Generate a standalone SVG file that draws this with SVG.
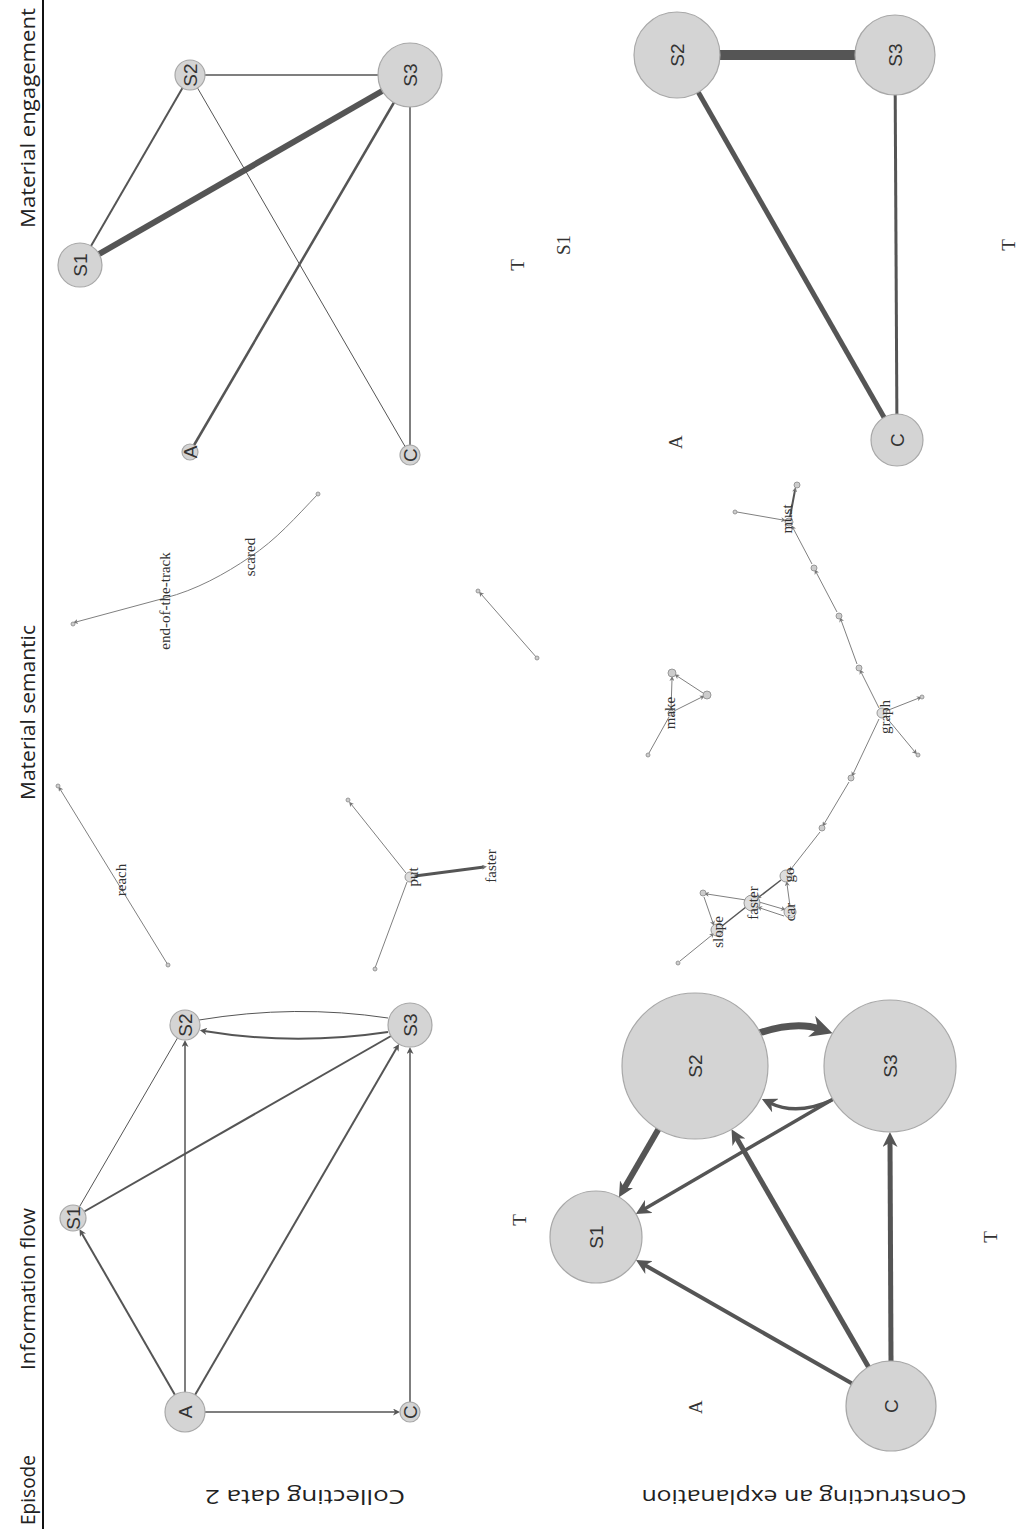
<svg xmlns="http://www.w3.org/2000/svg" width="1019" height="1529" viewBox="0 0 1019 1529">
<style>
.bg{fill:#fff}
.hdr{font-family:"Open Sans","Liberation Sans",sans-serif;font-size:20px;fill:#222}
.nd{fill:#d4d4d4;stroke:#a8a8a8;stroke-width:1.2}
.sn{fill:#d4d4d4;stroke:#999;stroke-width:1;fill-opacity:0.8}
.dot{fill:#ccc;stroke:#888;stroke-width:0.8}
.nl{font-family:"Liberation Sans",Arial,sans-serif;font-size:19px;fill:#333;text-anchor:middle;dominant-baseline:central}
.tl{font-family:"Liberation Serif","Times New Roman",serif;font-size:19px;fill:#333;text-anchor:middle;dominant-baseline:central}
.wl{font-family:"Liberation Serif","Times New Roman",serif;font-size:15px;fill:#333;text-anchor:middle;dominant-baseline:central}
.e{fill:none;stroke:#555;stroke-linecap:butt}
.et{fill:none;stroke:#808080;stroke-width:1}
</style>
<defs>
<marker id="aS" viewBox="0 0 10 10" refX="4" refY="5" markerWidth="7" markerHeight="7" markerUnits="userSpaceOnUse" orient="auto"><path d="M0,0 L10,5 L0,10 L3,5 z" fill="#555"/></marker>
<marker id="aM" viewBox="0 0 10 10" refX="4" refY="5" markerWidth="15" markerHeight="15" markerUnits="userSpaceOnUse" orient="auto"><path d="M0,0 L10,5 L0,10 L3,5 z" fill="#555"/></marker>
<marker id="aL" viewBox="0 0 10 10" refX="4" refY="5" markerWidth="22" markerHeight="22" markerUnits="userSpaceOnUse" orient="auto"><path d="M0,0 L10,5 L0,10 L3,5 z" fill="#555"/></marker>
<marker id="aT" viewBox="0 0 10 10" refX="4" refY="5" markerWidth="5" markerHeight="5" markerUnits="userSpaceOnUse" orient="auto"><path d="M0,0 L10,5 L0,10 L3,5 z" fill="#777"/></marker>
</defs>
<rect class="bg" x="0" y="0" width="1019" height="1529"/>

<g id="headers">
<line x1="43" y1="0" x2="43" y2="1529" stroke="#111" stroke-width="2"/>
<text class="hdr" transform="translate(35,228) rotate(-90)" textLength="220" lengthAdjust="spacingAndGlyphs">Material engagement</text>
<text class="hdr" transform="translate(35,800) rotate(-90)" textLength="175" lengthAdjust="spacingAndGlyphs">Material semantic</text>
<text class="hdr" transform="translate(35,1370) rotate(-90)" textLength="162" lengthAdjust="spacingAndGlyphs">Information flow</text>
<text class="hdr" transform="translate(35,1525) rotate(-90)" textLength="70" lengthAdjust="spacingAndGlyphs">Episode</text>
<text class="hdr" text-anchor="middle" dominant-baseline="central" transform="rotate(180,305,1497)" x="305" y="1497" textLength="200" lengthAdjust="spacingAndGlyphs">Collecting data 2</text>
<text class="hdr" text-anchor="middle" dominant-baseline="central" transform="rotate(180,804,1497)" x="804" y="1497" textLength="325" lengthAdjust="spacingAndGlyphs">Constructing an explanation</text>
</g>

<g id="connectors">
<line class="e" x1="80" y1="265" x2="190" y2="75" stroke-width="2"/>
<line class="e" x1="80" y1="265" x2="410" y2="75" stroke-width="6"/>
<line class="e" x1="190" y1="75" x2="410" y2="75" stroke-width="1.5"/>
<line class="e" x1="190" y1="75" x2="410" y2="455" stroke-width="1" stroke="#707070"/>
<line class="e" x1="410" y1="75" x2="190" y2="452" stroke-width="2.5"/>
<line class="e" x1="410" y1="75" x2="410" y2="455" stroke-width="1.5"/>
<line class="e" x1="677" y1="55" x2="895" y2="55" stroke-width="10"/>
<line class="e" x1="677" y1="55" x2="897" y2="440" stroke-width="5"/>
<line class="e" x1="895" y1="55" x2="897" y2="440" stroke-width="3"/>

<path class="et" d="M318,494 C296,517 276,540 250,557 C225,574 196,590 165,598 L76,622" marker-end="url(#aT)"/>
<path class="et" d="M537,658 L481,594" marker-end="url(#aT)"/>
<path class="et" d="M168,965 L60,789" marker-end="url(#aT)"/>
<path class="et" d="M375,968 L407,882"/>
<path class="et" d="M406,873 L351,804" marker-end="url(#aT)"/>
<path class="e" d="M415,876 L484,867" stroke-width="3" marker-end="url(#aT)"/>

<path class="et" d="M737,512 L783,520" marker-end="url(#aT)"/>
<path class="e" d="M790,517 L795,490" stroke-width="2" marker-end="url(#aT)"/>
<path class="et" d="M812,564 L793,528" marker-end="url(#aT)"/>
<path class="et" d="M837,612 L816,572" marker-end="url(#aT)"/>
<path class="et" d="M857,664 L841,620" marker-end="url(#aT)"/>
<path class="et" d="M879,708 L861,672" marker-end="url(#aT)"/>
<path class="et" d="M879,719 L853,774" marker-end="url(#aT)"/>
<path class="et" d="M849,782 L824,824" marker-end="url(#aT)"/>
<path class="et" d="M820,832 L791,869" marker-end="url(#aT)"/>
<path class="et" d="M886,711 L919,698" marker-end="url(#aT)"/>
<path class="et" d="M886,717 L915,752" marker-end="url(#aT)"/>
<path class="e" d="M781,880 L759,897" stroke-width="1.5" marker-end="url(#aT)"/>
<path class="et" d="M790,906 L787,884" marker-end="url(#aT)"/>
<path class="et" d="M759,902 L783,909" marker-end="url(#aT)"/>
<path class="et" d="M784,916 L760,908" marker-end="url(#aT)"/>
<path class="et" d="M746,900 L707,894" marker-end="url(#aT)"/>
<path class="et" d="M704,897 L713,923" marker-end="url(#aT)"/>
<path class="e" d="M746,907 L722,926" stroke-width="1.5"/>
<path class="et" d="M680,961 L712,935" marker-end="url(#aT)"/>
<path class="et" d="M649,753 L669,717"/>
<path class="et" d="M674,711 L702,697" marker-end="url(#aT)"/>
<path class="et" d="M703,693 L677,676" marker-end="url(#aT)"/>
<path class="et" d="M671,710 L672,679" marker-end="url(#aT)"/>

<line class="e" x1="175" y1="1395" x2="81.6" y2="1232.9" stroke-width="2" marker-end="url(#aS)"/>
<line class="e" x1="185" y1="1392" x2="185" y2="1044.2" stroke-width="1.5" marker-end="url(#aS)"/>
<line class="e" x1="195" y1="1395" x2="396.9" y2="1047.6" stroke-width="2" marker-end="url(#aS)"/>
<line class="e" x1="205" y1="1412" x2="395.8" y2="1412" stroke-width="1.5" marker-end="url(#aS)"/>
<line class="e" x1="410" y1="1402" x2="410" y2="1051.2" stroke-width="1.5" marker-end="url(#aS)"/>
<line class="e" x1="79.5" y1="1206.7" x2="177.5" y2="1038" stroke-width="1" stroke="#777"/>
<line class="e" x1="84.3" y1="1211.5" x2="391" y2="1036" stroke-width="2"/>
<path class="e" d="M199,1020 Q295,1004 388,1018" stroke-width="1" stroke="#777"/>
<path class="e" d="M388,1032 Q294,1046 204,1031" stroke-width="2" marker-end="url(#aS)"/>

<path class="e" d="M759,1033 Q796,1021 820,1029" stroke-width="7" marker-end="url(#aL)"/>
<path class="e" d="M832,1100 Q797,1116 770,1103" stroke-width="3.5" marker-end="url(#aM)"/>
<line class="e" x1="658.4" y1="1129.2" x2="623.5" y2="1189.4" stroke-width="6" marker-end="url(#aM)"/>
<line class="e" x1="832.9" y1="1099.2" x2="643.6" y2="1209.4" stroke-width="3.5" marker-end="url(#aM)"/>
<line class="e" x1="852" y1="1383.6" x2="643.8" y2="1264.5" stroke-width="4" marker-end="url(#aM)"/>
<line class="e" x1="868.5" y1="1367" x2="736" y2="1137.1" stroke-width="5" marker-end="url(#aM)"/>
<line class="e" x1="891" y1="1361" x2="890" y2="1141" stroke-width="5" marker-end="url(#aM)"/>
</g>

<g id="me1-S1"><circle class="nd" cx="80" cy="265" r="22"/><text class="nl" transform="rotate(-90,80,265)" x="80" y="265">S1</text></g>
<g id="me1-S2"><circle class="nd" cx="190" cy="75" r="15"/><text class="nl" transform="rotate(-90,190,75)" x="190" y="75">S2</text></g>
<g id="me1-S3"><circle class="nd" cx="410" cy="75" r="32"/><text class="nl" transform="rotate(-90,410,75)" x="410" y="75">S3</text></g>
<g id="me1-A"><circle class="nd" cx="190" cy="452" r="8"/><text class="nl" transform="rotate(-90,190,452)" x="190" y="452">A</text></g>
<g id="me1-C"><circle class="nd" cx="410" cy="455" r="10"/><text class="nl" transform="rotate(-90,410,455)" x="410" y="455">C</text></g>
<g id="me1-T"><text class="tl" transform="rotate(-90,517,265)" x="517" y="265">T</text></g>
<g id="me1-S1b"><text class="tl" transform="rotate(-90,563,245)" x="563" y="245">S1</text></g>

<g id="me2-S2"><circle class="nd" cx="677" cy="55" r="43"/><text class="nl" transform="rotate(-90,677,55)" x="677" y="55">S2</text></g>
<g id="me2-S3"><circle class="nd" cx="895" cy="55" r="40"/><text class="nl" transform="rotate(-90,895,55)" x="895" y="55">S3</text></g>
<g id="me2-C"><circle class="nd" cx="897" cy="440" r="26"/><text class="nl" transform="rotate(-90,897,440)" x="897" y="440">C</text></g>
<g id="me2-A"><text class="tl" transform="rotate(-90,675,442)" x="675" y="442">A</text></g>
<g id="me2-T"><text class="tl" transform="rotate(-90,1008,245)" x="1008" y="245">T</text></g>

<g id="ms1-nodes">
<circle class="dot" cx="318" cy="494" r="2"/>
<circle class="dot" cx="73" cy="624" r="2"/>
<circle class="dot" cx="537" cy="658" r="2"/>
<circle class="dot" cx="478" cy="591" r="2"/>
<circle class="dot" cx="168" cy="965" r="2"/>
<circle class="dot" cx="58" cy="786" r="2"/>
<circle class="dot" cx="375" cy="969" r="2"/>
<circle class="dot" cx="348" cy="800" r="2"/>
</g>
<g id="ms1-endtrack"><text class="wl" transform="rotate(-90,165,601)" x="165" y="601">end-of-the-track</text></g>
<g id="ms1-scared"><text class="wl" transform="rotate(-90,250,557)" x="250" y="557">scared</text></g>
<g id="ms1-reach"><text class="wl" transform="rotate(-90,121,880)" x="121" y="880">reach</text></g>
<g id="ms1-put"><circle class="sn" cx="410" cy="877" r="5"/><text class="wl" transform="rotate(-90,413,877)" x="413" y="877">put</text></g>
<g id="ms1-faster"><text class="wl" transform="rotate(-90,491,866)" x="491" y="866">faster</text></g>

<g id="ms2-dots">
<circle class="dot" cx="735" cy="512" r="2"/>
<circle class="dot" cx="797" cy="485" r="3"/>
<circle class="dot" cx="814" cy="568" r="3"/>
<circle class="dot" cx="839" cy="616" r="3"/>
<circle class="dot" cx="859" cy="668" r="3"/>
<circle class="dot" cx="851" cy="778" r="3"/>
<circle class="dot" cx="822" cy="828" r="3"/>
<circle class="dot" cx="922" cy="697" r="2"/>
<circle class="dot" cx="918" cy="755" r="2"/>
<circle class="dot" cx="703" cy="893" r="3"/>
<circle class="dot" cx="678" cy="963" r="2"/>
<circle class="dot" cx="672" cy="673" r="4"/>
<circle class="dot" cx="707" cy="695" r="4"/>
<circle class="dot" cx="648" cy="755" r="2"/>
</g>
<g id="ms2-must"><circle class="sn" cx="789" cy="522" r="4"/><text class="wl" transform="rotate(-90,787,519)" x="787" y="519">must</text></g>
<g id="ms2-graph"><circle class="sn" cx="882" cy="713" r="5"/><text class="wl" transform="rotate(-90,885,717)" x="885" y="717">graph</text></g>
<g id="ms2-go"><circle class="sn" cx="786" cy="876" r="6"/><text class="wl" transform="rotate(-90,789,875)" x="789" y="875">go</text></g>
<g id="ms2-car"><circle class="sn" cx="790" cy="912" r="6"/><text class="wl" transform="rotate(-90,790,912)" x="790" y="912">car</text></g>
<g id="ms2-faster"><circle class="sn" cx="752" cy="903" r="8"/><text class="wl" transform="rotate(-90,753,903)" x="753" y="903">faster</text></g>
<g id="ms2-slope"><circle class="sn" cx="717" cy="930" r="6"/><text class="wl" transform="rotate(-90,718,932)" x="718" y="932">slope</text></g>
<g id="ms2-make"><circle class="sn" cx="671" cy="713" r="3"/><text class="wl" transform="rotate(-90,670,713)" x="670" y="713">make</text></g>

<g id="if1-S1"><circle class="nd" cx="73" cy="1218" r="13"/><text class="nl" transform="rotate(-90,73,1218)" x="73" y="1218">S1</text></g>
<g id="if1-S2"><circle class="nd" cx="185" cy="1025" r="15"/><text class="nl" transform="rotate(-90,185,1025)" x="185" y="1025">S2</text></g>
<g id="if1-S3"><circle class="nd" cx="410" cy="1025" r="22"/><text class="nl" transform="rotate(-90,410,1025)" x="410" y="1025">S3</text></g>
<g id="if1-A"><circle class="nd" cx="185" cy="1412" r="20"/><text class="nl" transform="rotate(-90,185,1412)" x="185" y="1412">A</text></g>
<g id="if1-C"><circle class="nd" cx="410" cy="1412" r="10"/><text class="nl" transform="rotate(-90,410,1412)" x="410" y="1412">C</text></g>
<g id="if1-T"><text class="tl" transform="rotate(-90,519,1220)" x="519" y="1220">T</text></g>

<g id="if2-S2"><circle class="nd" cx="695" cy="1066" r="73"/><text class="nl" transform="rotate(-90,695,1066)" x="695" y="1066">S2</text></g>
<g id="if2-S3"><circle class="nd" cx="890" cy="1066" r="66"/><text class="nl" transform="rotate(-90,890,1066)" x="890" y="1066">S3</text></g>
<g id="if2-S1"><circle class="nd" cx="596" cy="1237" r="46"/><text class="nl" transform="rotate(-90,596,1237)" x="596" y="1237">S1</text></g>
<g id="if2-C"><circle class="nd" cx="891" cy="1406" r="45"/><text class="nl" transform="rotate(-90,891,1406)" x="891" y="1406">C</text></g>
<g id="if2-A"><text class="tl" transform="rotate(-90,695,1407)" x="695" y="1407">A</text></g>
<g id="if2-T"><text class="tl" transform="rotate(-90,990,1237)" x="990" y="1237">T</text></g>
</svg>
